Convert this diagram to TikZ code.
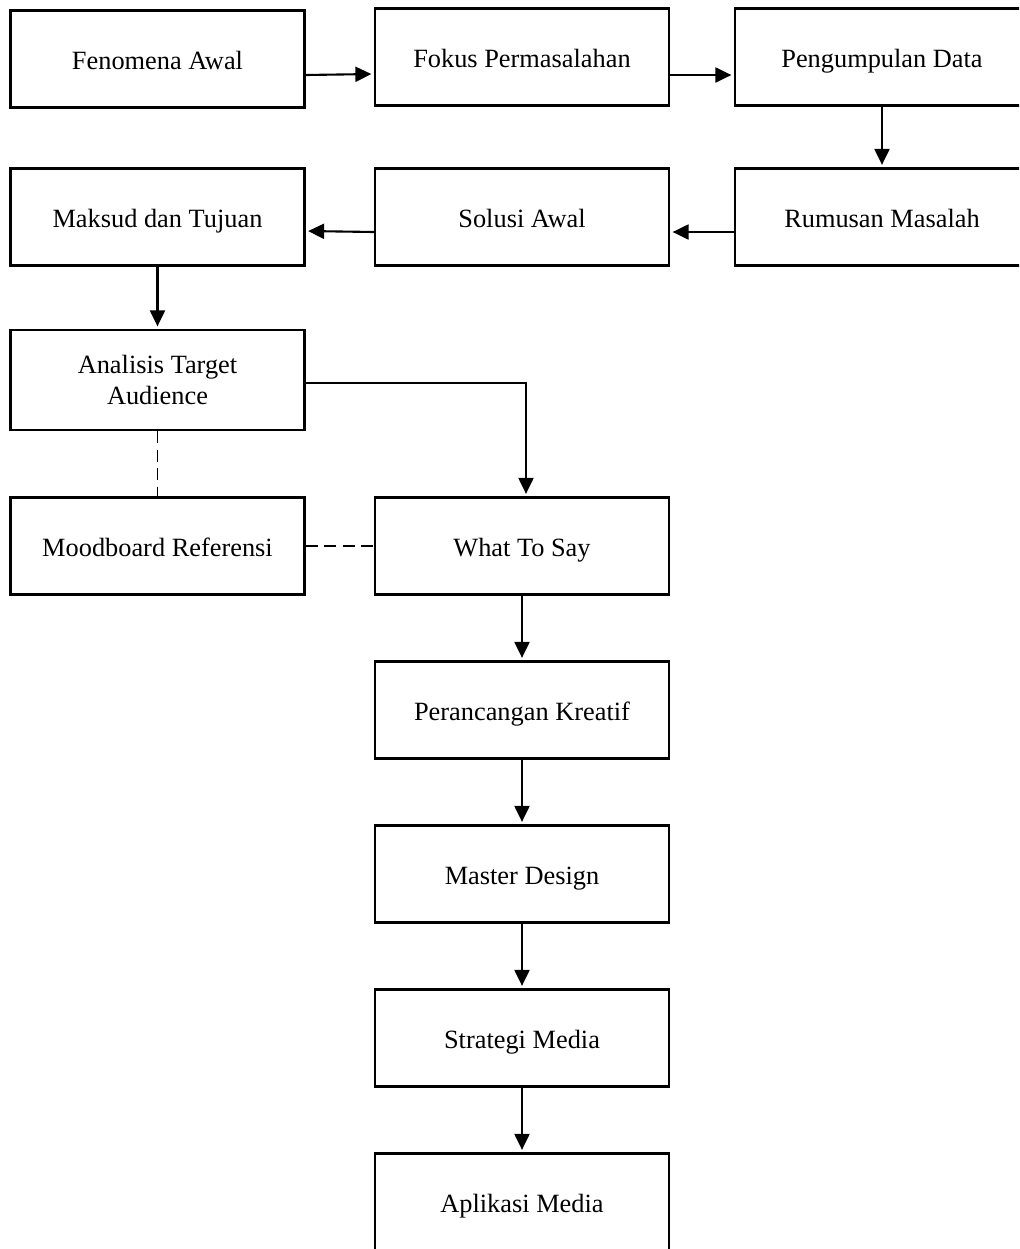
\documentclass[tikz,border=0pt]{standalone}
\usepackage{fontspec}
\setmainfont{Liberation Serif}
\usetikzlibrary{arrows.meta}
\tikzstyle{stage} = [rectangle, text centered, align=center, draw=black, line width=1.3pt, minimum width=5.88cm, minimum height=1.94cm, text height=13pt, text depth=1pt, font=\fontsize{15}{17.5}\selectfont]
\tikzstyle{arrow} = [line width=1.2pt, shorten >=0.05cm, -{Triangle[length=0.32cm,width=0.3cm]}]
\tikzstyle{link} = [line width=0.8pt, dash pattern=on 0.24cm off 0.13cm]

\begin{document}
\begin{tikzpicture}[x=0.02cm, y=-0.02cm]
    \useasboundingbox (0,0) rectangle (1019,1249);
    \clip (0,0) rectangle (1019,1249);

    \node (fenomena) [stage] at (157.5,59) {Fenomena Awal};
    \node (fokus) [stage] at (522,57) {Fokus Permasalahan};
    \node (pengumpulan) [stage] at (882,57) {Pengumpulan Data};
    \node (maksud) [stage] at (157.5,217) {Maksud dan Tujuan};
    \node (solusi) [stage] at (522,217) {Solusi Awal};
    \node (rumusan) [stage] at (882,217) {Rumusan Masalah};
    \node (analisis) [stage, minimum height=2cm, text height=, text depth=] at (157.5,380) {Analisis Target\\Audience};
    \node (moodboard) [stage] at (157.5,546) {Moodboard Referensi};
    \node (whattosay) [stage] at (522,546) {What To Say};
    \node (perancangan) [stage] at (522,710) {Perancangan Kreatif};
    \node (master) [stage] at (522,874) {Master Design};
    \node (strategi) [stage] at (522,1038) {Strategi Media};
    \node (aplikasi) [stage] at (522,1202) {Aplikasi Media};

    \draw [arrow] ([yshift=-0.32cm]fenomena.east) -- ([yshift=-0.34cm]fokus.west);
    \draw [arrow] ([yshift=-0.36cm]fokus.east) -- ([yshift=-0.36cm]pengumpulan.west);
    \draw [arrow] (pengumpulan.south) -- (rumusan.north);
    \draw [arrow] ([yshift=-0.3cm]rumusan.west) -- ([yshift=-0.3cm]solusi.east);
    \draw [arrow] ([yshift=-0.3cm]solusi.west) -- ([yshift=-0.28cm]maksud.west -| maksud.east);
    \draw [arrow] (maksud.south) -- (analisis.north);
    \draw [arrow] ([yshift=-0.06cm]analisis.east) -| ([xshift=0.08cm]whattosay.north);
    \draw [link] (analisis.south) -- (moodboard.north);
    \draw [link] (moodboard.east) -- (whattosay.west);
    \draw [arrow] (whattosay.south) -- (perancangan.north);
    \draw [arrow] (perancangan.south) -- (master.north);
    \draw [arrow] (master.south) -- (strategi.north);
    \draw [arrow] (strategi.south) -- (aplikasi.north);
\end{tikzpicture}
\end{document}
